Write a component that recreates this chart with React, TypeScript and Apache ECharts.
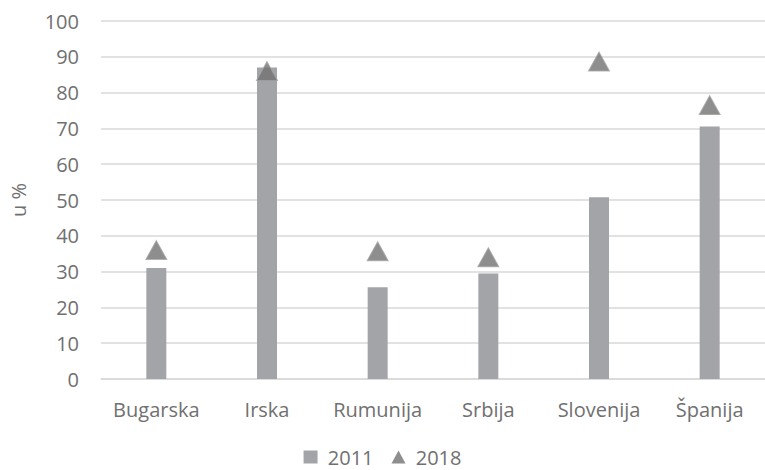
import React, { useEffect, useRef } from "react";
import * as echarts from "echarts";

const categories = ["Bugarska", "Irska", "Rumunija", "Srbija", "Slovenija", "Španija"];
const values2011 = [31, 87, 25.6, 29.5, 50.8, 70.5];
const values2018 = [36, 86, 35.7, 34, 88.7, 76.5];
const yTicks = { min: 0, max: 100, interval: 10 };

const FONT = "Open Sans";
const TEXT = "#707070";

export default function App() {
  const ref = useRef<HTMLDivElement>(null);
  useEffect(() => {
    if (!ref.current) return;
    const chart = echarts.init(ref.current, undefined, { renderer: "svg" });
    chart.setOption({
      animation: false,
      backgroundColor: "#ffffff",
      textStyle: { fontFamily: FONT, color: TEXT },
      grid: { left: 98, top: 21, width: 671, height: 358 },
      legend: {
        top: 447,
        left: "center",
        padding: 0,
        itemWidth: 14,
        itemHeight: 13,
        itemGap: 18,
        formatter: (n: string) => " " + n,
        textStyle: { fontFamily: FONT, fontSize: 20, color: TEXT },
        data: [
          { name: "2011", icon: "rect", itemStyle: { color: "#a3a4a7" } },
          { name: "2018", icon: "triangle", itemStyle: { color: "#727272", borderWidth: 0 } },
        ],
      },
      xAxis: {
        type: "category",
        data: categories,
        axisTick: { show: false },
        axisLine: { lineStyle: { color: "#d9d9d9", width: 1.5 } },
        axisLabel: { fontFamily: FONT, fontSize: 20, color: TEXT, margin: 20, interval: 0 },
      },
      yAxis: {
        type: "value",
        min: yTicks.min,
        max: yTicks.max,
        interval: yTicks.interval,
        name: "u %",
        nameLocation: "middle",
        nameGap: 73,
        nameTextStyle: { fontFamily: FONT, fontSize: 20, color: TEXT },
        axisLine: { show: false },
        axisTick: { show: false },
        axisLabel: { fontFamily: FONT, fontSize: 20, color: TEXT, margin: 22 },
        splitLine: { lineStyle: { color: "#d9d9d9", width: 1.5 } },
      },
      series: [
        {
          name: "2011",
          type: "bar",
          data: values2011,
          barWidth: 20,
          itemStyle: { color: "#a3a4a7" },
        },
        {
          name: "2018",
          type: "scatter",
          data: values2018,
          symbol: "triangle",
          symbolSize: [21, 19],
          itemStyle: { color: "#727272", borderColor: "#a5a5a5", borderWidth: 1 },
          z: 5,
        },
      ],
    });
    return () => chart.dispose();
  }, []);
  return <div ref={ref} style={{ width: 765, height: 470, position: "absolute", left: 0, top: 0 }} />;
}
